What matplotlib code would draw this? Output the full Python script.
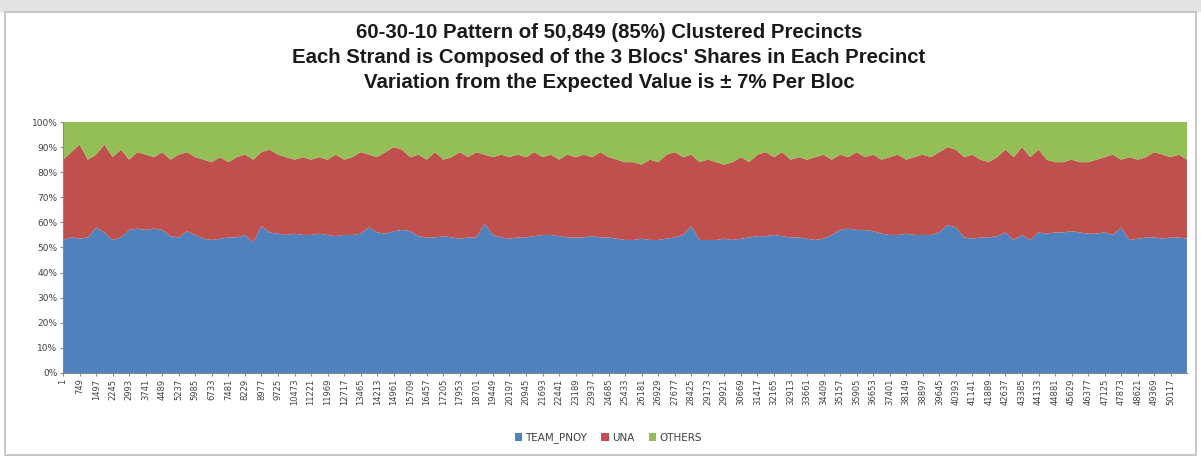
import matplotlib.pyplot as plt
import matplotlib.patches as mpatches
import numpy as np

# sampled precincts (every 374th of the 50,849 clustered precincts, plus the last one)
precinct = np.append(np.arange(1, 50850, 374), 50849)

team_pnoy = [53, 54, 53.5, 54, 58, 56, 53, 54, 57, 57.5, 57, 57.5, 57, 54.5, 54, 56.5, 55, 53.5, 53, 53.5,
             54, 54, 55, 52, 58.5, 56, 55.5, 55, 55.5, 55, 55, 55.5, 55, 54.5, 55, 55, 55.5, 58, 56, 55.5,
             56.5, 57, 56.5, 54.5, 54, 54, 54.5, 54, 53.5, 54, 54, 59.5, 55, 54, 53.5, 54, 54, 54.5, 55, 55,
             54.5, 54, 54, 54, 54.5, 54, 54, 53.5, 53, 53, 53.5, 53, 53, 53.5, 54, 55, 58.5, 53, 53, 53,
             53.5, 53, 53.5, 54, 54.5, 54.5, 55, 54.5, 54, 54, 53.5, 53, 53.5, 55, 57, 57.5, 57, 57, 56.5, 55.5,
             55, 55, 55.5, 55, 55, 55, 56, 59, 58, 54, 53.5, 54, 54, 54.5, 56, 53, 55, 53, 56, 55.5,
             56, 56, 56.5, 56, 55.5, 55.5, 56, 55, 58, 53, 53.5, 54, 54, 53.5, 54, 54, 53.5]
una = [32, 34, 37.5, 31, 29, 35, 33, 35, 28, 30.5, 30, 28.5, 31, 30.5, 33, 31.5, 31, 31.5, 31, 32.5,
       30, 32, 32, 33, 29.5, 33, 31.5, 31, 29.5, 31, 30, 30.5, 30, 32.5, 30, 31, 32.5, 29, 30, 32.5,
       33.5, 32, 29.5, 32.5, 31, 34, 30.5, 32, 34.5, 32, 34, 27.5, 31, 33, 32.5, 33, 32, 33.5, 31, 32,
       30.5, 33, 32, 33, 31.5, 34, 32, 31.5, 31, 31, 29.5, 32, 31, 33.5, 34, 31, 28.5, 31, 32, 31,
       29.5, 31, 32.5, 30, 32.5, 33.5, 31, 33.5, 31, 32, 31.5, 33, 33.5, 30, 30, 28.5, 31, 29, 30.5, 29.5,
       31, 32, 29.5, 31, 32, 31, 32, 31, 31, 32, 33.5, 31, 30, 31.5, 33, 33, 35, 33, 33, 29.5,
       28, 28, 28.5, 28, 28.5, 29.5, 30, 32, 27, 33, 31.5, 32, 34, 33.5, 32, 33, 31.5]
others = [15, 12, 9, 15, 13, 9, 14, 11, 15, 12, 13, 14, 12, 15, 13, 12, 14, 15, 16, 14,
          16, 14, 13, 15, 12, 11, 13, 14, 15, 14, 15, 14, 15, 13, 15, 14, 12, 13, 14, 12,
          10, 11, 14, 13, 15, 12, 15, 14, 12, 14, 12, 13, 14, 13, 14, 13, 14, 12, 14, 13,
          15, 13, 14, 13, 14, 12, 14, 15, 16, 16, 17, 15, 16, 13, 12, 14, 13, 16, 15, 16,
          17, 16, 14, 16, 13, 12, 14, 12, 15, 14, 15, 14, 13, 15, 13, 14, 12, 14, 13, 15,
          14, 13, 15, 14, 13, 14, 12, 10, 11, 14, 13, 15, 16, 14, 11, 14, 10, 14, 11, 15,
          16, 16, 15, 16, 16, 15, 14, 13, 15, 14, 15, 14, 12, 13, 14, 13, 15]

series_names = ['TEAM_PNOY', 'UNA', 'OTHERS']
colors = ['#4F81BD', '#C0504D', '#94BE56']
tick_labels = [str(v) for v in range(1, 50118, 748)]

fig = plt.figure(figsize=(12.01, 4.59), dpi=100)

# chart frame like the Excel chart area
fig.patches.append(mpatches.Rectangle((0, 0.977), 1, 0.023, transform=fig.transFigure,
                                      color='#e4e4e4', zorder=0))
fig.patches.append(mpatches.Rectangle((0.004, 0.008), 0.992, 0.965, transform=fig.transFigure,
                                      fill=False, edgecolor='#bdbdbd', linewidth=1.2))

ax = fig.add_axes([0.0525, 0.1874, 0.9358, 0.5468])
ax.stackplot(precinct, team_pnoy, una, others, colors=colors, labels=series_names, linewidth=0)
ax.set_xlim(1, 50849)
ax.set_ylim(0, 100)

ax.set_yticks(np.arange(0, 101, 10))
ax.set_yticklabels([f'{v}%' for v in range(0, 101, 10)], fontsize=6.5, color='#404040')
ax.set_xticks(range(1, 50118, 748))
ax.set_xticklabels(tick_labels, rotation=90, fontsize=6, color='#404040')
ax.tick_params(axis='both', length=2, color='#888888', pad=2)
for s in ['top', 'right']:
    ax.spines[s].set_visible(False)
for s in ['left', 'bottom']:
    ax.spines[s].set_color('#888888')
    ax.spines[s].set_linewidth(0.8)

title_lines = ['60-30-10 Pattern of 50,849 (85%) Clustered Precincts',
               "Each Strand is Composed of the 3 Blocs' Shares in Each Precinct",
               'Variation from the Expected Value is ± 7% Per Bloc']
for i, line in enumerate(title_lines):
    fig.text(0.507, 1 - (33 + 24.5 * i) / 459, line, ha='center', va='center', fontsize=14.7,
             fontweight='bold', color='#1a1a1a', family=['Liberation Sans', 'DejaVu Sans'])

ax.legend(loc='upper center', bbox_to_anchor=(0.485, -0.2), ncol=3, frameon=False,
          fontsize=7.5, handlelength=0.7, handleheight=0.7, handletextpad=0.3, columnspacing=1.4,
          labelcolor='#404040')

plt.savefig('out.png', dpi=100)
